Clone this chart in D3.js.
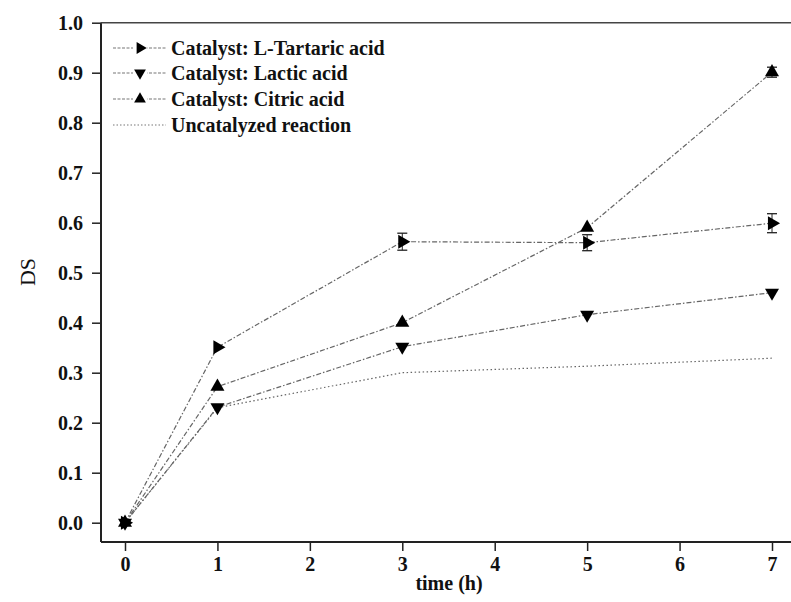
<!DOCTYPE html>
<html><head><meta charset="utf-8">
<script src="https://cdn.jsdelivr.net/npm/d3@7"></script>
<style>body{margin:0;background:#fff}svg{display:block}</style>
</head><body><svg id="c" width="791" height="602"></svg>
<script>
const times = [0, 1, 3, 5, 7];
const tartaric = [0, 0.351, 0.562, 0.56, 0.599];
const tartaricErr = [0, 0, 0.017, 0.016, 0.019];
const lactic = [0, 0.231, 0.352, 0.416, 0.46];
const lacticErr = [0, 0, 0, 0, 0];
const citric = [0, 0.272, 0.40, 0.59, 0.901];
const citricErr = [0, 0, 0, 0, 0.01];
const uncatalyzed = [0, 0.23, 0.30, 0.313, 0.329];
const xTicks = [0, 1, 2, 3, 4, 5, 6, 7];
const yTicks = [0, 0.1, 0.2, 0.3, 0.4, 0.5, 0.6, 0.7, 0.8, 0.9, 1.0];
const seriesNames = ["Catalyst: L-Tartaric acid", "Catalyst: Lactic acid", "Catalyst: Citric acid", "Uncatalyzed reaction"];

const svg = d3.select("#c");
const font = "'Liberation Serif','Times New Roman',serif";
const L = 101, R = 791, T = 22.7, B = 542;
const x = d3.scaleLinear().domain([0, 7]).range([125, 772]);
const y = d3.scaleLinear().domain([0, 1]).range([522.7, 22.7]);

// axes
const gx = svg.append("g").attr("transform", `translate(0,${B})`)
  .call(d3.axisBottom(x).tickValues(xTicks).tickFormat(d3.format("d")).tickSize(9).tickPadding(6).tickSizeOuter(0));
const gy = svg.append("g").attr("transform", `translate(${L},0)`)
  .call(d3.axisLeft(y).tickValues(yTicks).tickFormat(d3.format(".1f")).tickSize(9).tickPadding(9).tickSizeOuter(0));
[gx, gy].forEach(g => {
  g.select(".domain").remove();
  g.selectAll(".tick line").attr("stroke", "#222").attr("stroke-width", 1.5);
  g.selectAll(".tick text").attr("fill", "#111").style("font-family", font)
    .style("font-weight", "bold").style("font-size", "20px");
});
svg.append("line").attr("x1", L).attr("x2", R).attr("y1", B).attr("y2", B).attr("stroke", "#222").attr("stroke-width", 2);
svg.append("line").attr("x1", L).attr("x2", L).attr("y1", T).attr("y2", B).attr("stroke", "#222").attr("stroke-width", 2);
svg.append("line").attr("x1", L).attr("x2", R).attr("y1", T).attr("y2", T).attr("stroke", "#444").attr("stroke-width", 1.5);

svg.append("text").attr("transform", "translate(35,272) rotate(-90)").attr("text-anchor", "middle")
  .style("font-family", font).style("font-size", "22px").attr("fill", "#111").text("DS");
svg.append("text").attr("x", 449).attr("y", 590).attr("text-anchor", "middle")
  .style("font-family", font).style("font-weight", "bold").style("font-size", "20px").attr("fill", "#111").text("time (h)");

const series = [
  {name: seriesNames[0], vals: tartaric, err: tartaricErr, rot: 90, dash: "5,2,1.5,2"},
  {name: seriesNames[1], vals: lactic, err: lacticErr, rot: 180, dash: "5,2,1.5,2"},
  {name: seriesNames[2], vals: citric, err: citricErr, rot: 0, dash: "5,2,1.5,2"},
  {name: seriesNames[3], vals: uncatalyzed, err: null, rot: null, dash: "1.5,2.5"}
];
const line = d3.line().x(d => x(d.t)).y(d => y(d.v));
const tri = d3.symbol().type(d3.symbolTriangle).size(85);

// lines first
series.forEach(s => {
  const pts = times.map((t, i) => ({t, v: s.vals[i]}));
  svg.append("path").attr("d", line(pts)).attr("fill", "none")
    .attr("stroke", "#666").attr("stroke-width", 1.2).attr("stroke-dasharray", s.dash);
});
// error bars and markers
series.forEach(s => {
  if (s.rot === null) return;
  const pts = times.map((t, i) => ({t, v: s.vals[i], e: s.err[i]}));
  const g = svg.append("g");
  pts.filter(p => p.e > 0).forEach(p => {
    const cx = x(p.t), y1 = y(p.v - p.e), y2 = y(p.v + p.e);
    g.append("line").attr("x1", cx).attr("x2", cx).attr("y1", y1).attr("y2", y2).attr("stroke", "#222").attr("stroke-width", 1);
    [y1, y2].forEach(yy => g.append("line").attr("x1", cx - 5).attr("x2", cx + 5).attr("y1", yy).attr("y2", yy).attr("stroke", "#222").attr("stroke-width", 1.3));
  });
  g.selectAll("path").data(pts).join("path")
    .attr("d", tri).attr("fill", "#000")
    .attr("transform", p => `translate(${x(p.t)},${y(p.v)}) rotate(${s.rot})`);
});

// legend
const legY = [48, 73, 99, 125];
series.forEach((s, i) => {
  const g = svg.append("g").attr("transform", `translate(0,${legY[i]})`);
  g.append("line").attr("x1", 113).attr("x2", 166).attr("y1", 0).attr("y2", 0)
    .attr("stroke", "#777").attr("stroke-width", 1.1).attr("stroke-dasharray", i < 3 ? "3,1.5" : "1.5,2");
  if (s.rot !== null) {
    g.append("rect").attr("x", 133).attr("y", -6).attr("width", 14).attr("height", 12).attr("fill", "#fff");
    g.append("path").attr("d", d3.symbol().type(d3.symbolTriangle).size(60)).attr("fill", "#000")
      .attr("transform", `translate(140,0) rotate(${s.rot})`);
  }
  g.append("text").attr("x", 171).attr("y", 6.5).style("font-family", font).style("font-weight", "bold")
    .style("font-size", "20px").attr("fill", "#111").text(s.name);
});
</script></body></html>
